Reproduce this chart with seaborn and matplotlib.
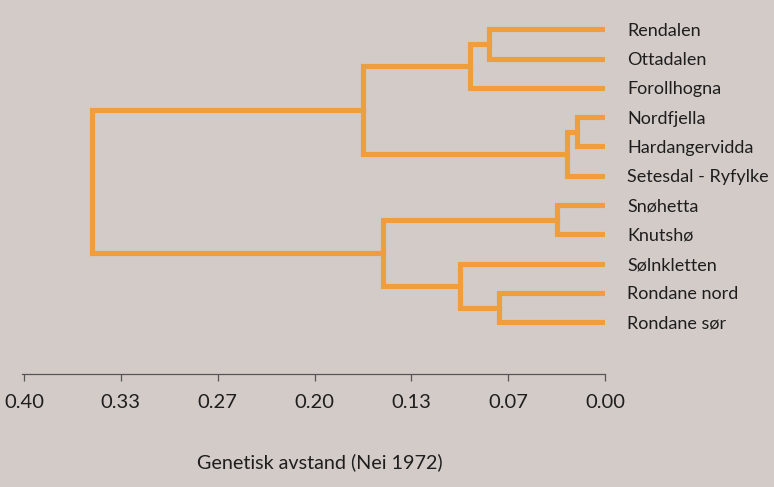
import matplotlib
matplotlib.use("Agg")
import matplotlib.pyplot as plt
import seaborn as sns
import pandas as pd

# ---- data ----
leaves = ["Rendalen", "Ottadalen", "Forollhogna", "Nordfjella", "Hardangervidda",
          "Setesdal - Ryfylke", "Snøhetta", "Knutshø", "Sølnkletten",
          "Rondane nord", "Rondane sør"]
# linkage: each merge joins node a and node b at a height (new node id = n + k)
merge_a = [0, 11, 3, 13, 12, 6, 9, 8, 16, 15]
merge_b = [1, 2, 4, 5, 14, 7, 10, 17, 18, 19]
merge_h = [0.0800, 0.0932, 0.0195, 0.0264, 0.1665, 0.0333, 0.0728, 0.0999, 0.1531, 0.3531]
tick_values = [0.40, 1/3, 4/15, 0.20, 2/15, 1/15, 0.0]
tick_labels = ["0.40", "0.33", "0.27", "0.20", "0.13", "0.07", "0.00"]
xlabel = "Genetisk avstand (Nei 1972)"

BG = "#d3cbc7"
ORANGE = "#ee9e3c"
TEXT = "#1e1e1e"

# ---- build dendrogram segments ----
n = len(leaves)
node_y = {i: float(i) for i in range(n)}
node_h = {i: 0.0 for i in range(n)}
rows = []
for k, (a, b, h) in enumerate(zip(merge_a, merge_b, merge_h)):
    pts = [(node_h[a], node_y[a]), (h, node_y[a]), (h, node_y[b]), (node_h[b], node_y[b])]
    for j, (px, py) in enumerate(pts):
        rows.append({"seg": k, "order": j, "x": px, "y": py})
    node_y[n + k] = (node_y[a] + node_y[b]) / 2
    node_h[n + k] = h
df = pd.DataFrame(rows)

sns.set_style("white", rc={"axes.facecolor": BG, "figure.facecolor": BG})
plt.rcParams["font.family"] = ["Lato", "DejaVu Sans"]

fig = plt.figure(figsize=(7.74, 4.87), dpi=100)
W, H = 774, 487
ax = fig.add_axes([22 / W, (H - 374) / H, (605 - 22) / W, 374 / H])

sns.lineplot(data=df, x="x", y="y", units="seg", estimator=None, sort=False,
             color=ORANGE, lw=3.7, solid_capstyle="projecting",
             solid_joinstyle="miter", ax=ax)

ax.set_xlim(0.4 + 2 / 1452, 0.0)
ax.set_ylim(11.77, -1.0)

for s in ["top", "left", "right"]:
    ax.spines[s].set_visible(False)
ax.spines["bottom"].set_color("#555555")
ax.spines["bottom"].set_linewidth(0.9)

ax.set_xticks(tick_values)
ax.set_xticklabels(tick_labels)
ax.tick_params(axis="x", bottom=True, direction="out", length=5, width=0.9,
               color="#555555", pad=9.5, labelsize=14.5, labelcolor=TEXT)

ax.yaxis.tick_right()
ax.set_yticks(range(n))
ax.set_yticklabels(leaves)
ax.tick_params(axis="y", left=False, right=False, length=0, pad=16,
               labelsize=13, labelcolor=TEXT)
ax.set_ylabel("")

ax.set_xlabel(xlabel, fontsize=14.2, color=TEXT)
ax.xaxis.set_label_coords((320 - 22) / 583, -88 / 374)
ax.xaxis.label.set_va("center")

fig.savefig("out.png", dpi=100, facecolor=BG)
